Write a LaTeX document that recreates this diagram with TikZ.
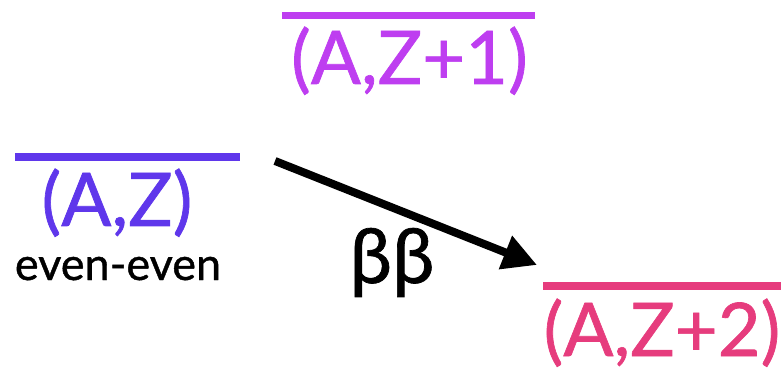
\documentclass[tikz,border=0pt]{standalone}
\usepackage{fontspec}
\setmainfont{Lato}[FakeBold=0.9]
\usetikzlibrary{arrows.meta}
\definecolor{levpurple}{RGB}{190,62,240}
\definecolor{levblue}{RGB}{95,55,235}
\definecolor{levpink}{RGB}{230,60,125}
\begin{document}
\begin{tikzpicture}[x=1pt,y=-1pt,
  bar/.style={fill=#1, draw=none, inner sep=0pt, minimum height=7.5pt},
  lbl/.style={text=#1, font=\fontsize{74}{74}\selectfont, anchor=base, inner sep=0pt},
  note/.style={text=black, anchor=base, inner sep=0pt}
]
\useasboundingbox (0,0) rectangle (781,371);
% levels
\node[bar=levblue, minimum width=225pt] (barAZ) at (127.5,157) {};
\node[bar=levpurple, minimum width=253pt] (barAZ1) at (408.5,15.5) {};
\node[bar=levpink, minimum width=238pt] (barAZ2) at (662,286) {};
% labels
\node[lbl=levblue] (lblAZ) at (117,226) {(A,Z)};
\node[lbl=levpurple] (lblAZ1) at (409.5,84) {(A,Z+1)};
\node[lbl=levpink] (lblAZ2) at (662,356) {(A,Z+2)};
\node[note, font=\fontsize{45}{45}\selectfont] (ee) at (118,280) {even-even};
\node[note, font=\fontsize{76}{76}\selectfont] (bb) at (392,283) {ββ};
% transition
\coordinate (arrS) at (275,161);
\coordinate (arrT) at (537,265);
\draw[line width=8pt, -{Triangle[length=34pt,width=34pt]}] (arrS) -- (arrT);
\end{tikzpicture}
\end{document}
